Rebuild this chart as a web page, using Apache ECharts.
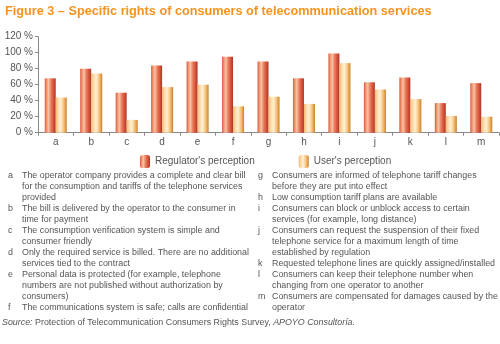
<!DOCTYPE html>
<html><head><meta charset="utf-8">
<script src="https://cdn.jsdelivr.net/npm/echarts@6/dist/echarts.min.js"></script>
<style>html,body{margin:0;padding:0;background:#fff}#c{width:500px;height:344px}</style>
</head><body><div id="c"></div>
<script>
var categories = ['a','b','c','d','e','f','g','h','i','j','k','l','m'];
var regulator = [68, 80, 50, 84, 89, 95, 89, 68, 99, 63, 69, 37, 62];
var users = [44, 74, 16, 57, 60, 33, 45, 36, 87, 54, 42, 21, 20];
var yTicks = [0, 20, 40, 60, 80, 100, 120];
var seriesNames = ["Regulator's perception", "User's perception"];
var titleText = 'Figure 3 \u2013 Specific rights of consumers of telecommunication services';
var notesLeft = [
  ['a', 'The operator company provides a complete and clear bill'],
  ['', 'for the consumption and tariffs of the telephone services'],
  ['', 'provided'],
  ['b', 'The bill is delivered by the operator to the consumer in'],
  ['', 'time for payment'],
  ['c', 'The consumption verification system is simple and'],
  ['', 'consumer friendly'],
  ['d', 'Only the required service is billed. There are no additional'],
  ['', 'services tied to the contract'],
  ['e', 'Personal data is protected (for example, telephone'],
  ['', 'numbers are not published without authorization by'],
  ['', 'consumers)'],
  ['f', 'The communications system is safe; calls are confidential']
];
var notesRight = [
  ['g', 'Consumers are informed of telephone tariff changes'],
  ['', 'before they are put into effect'],
  ['h', 'Low consumption tariff plans are available'],
  ['i', 'Consumers can block or unblock access to certain'],
  ['', 'services (for example, long distance)'],
  ['j', 'Consumers can request the suspension of their fixed'],
  ['', 'telephone service for a maximum length of time'],
  ['', 'established by regulation'],
  ['k', 'Requested telephone lines are quickly assigned/installed'],
  ['l', 'Consumers can keep their telephone number when'],
  ['', 'changing from one operator to another'],
  ['m', 'Consumers are compensated for damages caused by the'],
  ['', 'operator']
];

var FONT = 'Liberation Sans';
var TXT = '#555555';
var FS = 8.9;
var chart = echarts.init(document.getElementById('c'), null, {renderer: 'canvas'});

function grad(stops) {
  return new echarts.graphic.LinearGradient(0, 0, 1, 0, stops.map(function (s) { return {offset: s[0], color: s[1]}; }));
}
var regFill = grad([[0, '#d8583a'], [0.15, '#ee8f6c'], [0.35, '#f8c2a6'], [0.55, '#ec8060'], [0.8, '#d4503a'], [1, '#a83a26']]);
var usrFill = grad([[0, '#f6b46a'], [0.2, '#fcd9a8'], [0.45, '#fff0d6'], [0.7, '#f8c784'], [0.9, '#e29a45'], [1, '#b97a2c']]);

var graphics = [];
var lh = 11;
function addNotes(list, xL, xT, y0) {
  list.forEach(function (n, i) {
    if (n[0]) graphics.push({type: 'text', left: xL, top: y0 + i * lh, style: {text: n[0], fill: TXT, font: FS + 'px "' + FONT + '"'}});
    graphics.push({type: 'text', left: xT, top: y0 + i * lh, style: {text: n[1], fill: TXT, font: FS + 'px "' + FONT + '"'}});
  });
}
addNotes(notesLeft, 8, 22, 171);
addNotes(notesRight, 258, 272, 171);
graphics.push({type: 'text', left: 2, top: 318, style: {
  text: '{i|Source:} Protection of Telecommunication Consumers Rights Survey, {i|APOYO Consultor\u00eda.}',
  fill: TXT, font: FS + 'px "' + FONT + '"',
  rich: {i: {fontStyle: 'italic', fontSize: FS, fontFamily: FONT, fill: TXT}}
}});

chart.setOption({
  animation: false,
  title: {text: titleText, left: 0, top: 0,
    textStyle: {color: '#f5931e', fontWeight: 'bold', fontSize: 12.7, fontFamily: FONT}},
  legend: {left: 135, top: 150, itemWidth: 10, itemHeight: 13, itemGap: 44,
    textStyle: {color: TXT, fontSize: 10, fontFamily: FONT},
    data: [{name: seriesNames[0], itemStyle: {color: regFill}}, {name: seriesNames[1], itemStyle: {color: usrFill}}]},
  grid: {left: 38, right: 1, top: 36.7, bottom: 211.3},
  xAxis: {type: 'category', data: categories,
    axisLine: {lineStyle: {color: '#888'}},
    axisTick: {show: true, length: 3, lineStyle: {color: '#888'}},
    axisLabel: {color: TXT, fontSize: 10, fontFamily: FONT, margin: 5}},
  yAxis: {type: 'value', min: 0, max: 120, interval: 20,
    axisLine: {show: true, lineStyle: {color: '#888'}},
    axisTick: {show: true, length: 3, lineStyle: {color: '#888'}},
    splitLine: {show: false},
    axisLabel: {color: TXT, fontSize: 10, fontFamily: FONT, margin: 5,
      formatter: function (v) { return yTicks.indexOf(v) >= 0 ? v + ' %' : ''; }}},
  series: [
    {name: seriesNames[0], type: 'bar', data: regulator, barWidth: 11, barGap: '0%', itemStyle: {color: regFill}},
    {name: seriesNames[1], type: 'bar', data: users, barWidth: 11, barGap: '0%', itemStyle: {color: usrFill}}
  ],
  graphic: graphics
});
</script></body></html>
